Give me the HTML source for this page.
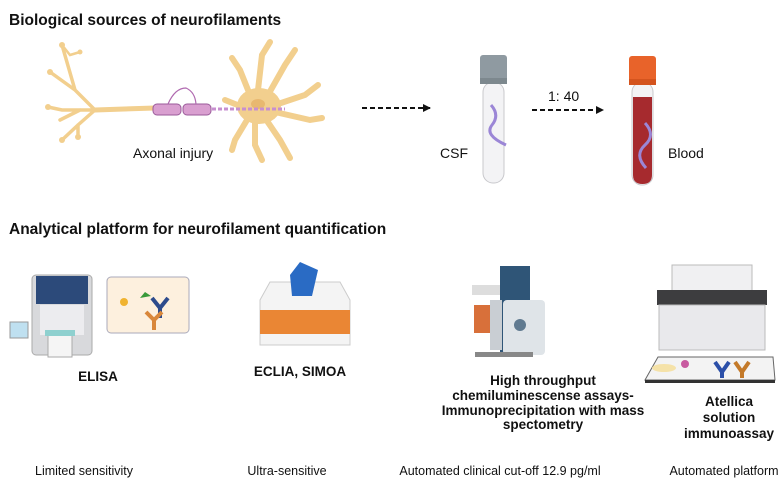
<!DOCTYPE html>
<html><head><meta charset="utf-8"><style>
html,body{margin:0;padding:0;background:#fff;}
svg{display:block;}
text{font-family:"Liberation Sans",Arial,sans-serif;fill:#111;}
.b{font-weight:bold;}
</style></head><body>
<svg width="781" height="487" viewBox="0 0 781 487" xmlns="http://www.w3.org/2000/svg">
<defs>
<marker id="ah" markerWidth="8" markerHeight="8" refX="7" refY="4" orient="auto" markerUnits="userSpaceOnUse"><path d="M0,0 L8,4 L0,8 z" fill="#111"/></marker>
</defs>
<text x="9" y="25" class="b" font-size="15.5">Biological sources of neurofilaments</text>
<text x="9" y="234" class="b" font-size="15.5">Analytical platform for neurofilament quantification</text>

<!-- neuron -->
<g stroke="#f2cf8e" stroke-linecap="round" fill="none">
<path d="M95,110 L155,108" stroke-width="5"/>
<path d="M95,110 L75,90 L62,45 M75,90 L50,72 M95,110 L62,110 L48,107 M80,110 L60,120 M95,110 L78,125 L62,140 M78,125 L78,137" stroke-width="3.5"/>
<path d="M62,45 L70,55 L80,52" stroke-width="2.5"/>
<path d="M250,95 L240,70 L232,58 M258,90 L262,55 L270,42 M268,95 L285,65 L295,50 M275,105 L305,95 L318,85 M275,112 L310,120 L322,118 M265,118 L280,140 L290,158 M255,118 L255,145 L262,160 M250,115 L235,140 L232,150 M245,108 L225,100" stroke-width="6"/>
</g>
<g fill="#f2cf8e"><circle cx="62" cy="45" r="3"/><circle cx="50" cy="72" r="3"/><circle cx="48" cy="107" r="3"/><circle cx="62" cy="140" r="3"/><circle cx="78" cy="137" r="3"/><circle cx="80" cy="52" r="2.5"/></g>
<ellipse cx="259" cy="106" rx="22" ry="18" fill="#f2cf8e"/>
<ellipse cx="258" cy="104" rx="7" ry="5" fill="#e8b870"/>
<rect x="153" y="104" width="28" height="11" rx="4" fill="#d99fd0" stroke="#9a5a9a"/>
<rect x="183" y="104" width="28" height="11" rx="4" fill="#d99fd0" stroke="#9a5a9a"/>
<path d="M168,104 Q175,88 186,88 Q195,92 196,104" fill="none" stroke="#b06ab0" stroke-width="1.2"/>
<path d="M212,109 L285,109" stroke="#c78fd0" stroke-width="3" stroke-dasharray="4,2"/>
<text x="133" y="158" font-size="14">Axonal injury</text>

<!-- arrows -->
<line x1="362" y1="108" x2="430" y2="108" stroke="#111" stroke-width="2" stroke-dasharray="5,3" marker-end="url(#ah)"/>
<line x1="532" y1="110" x2="603" y2="110" stroke="#111" stroke-width="2" stroke-dasharray="5,3" marker-end="url(#ah)"/>
<text x="548" y="101" font-size="14">1: 40</text>

<!-- CSF tube -->
<rect x="483" y="82" width="21" height="101" rx="10" fill="#f3f3f5" stroke="#c8c8cc"/>
<rect x="480" y="55" width="27" height="27" rx="3" fill="#8f9aa1"/>
<rect x="480" y="78" width="27" height="6" fill="#7d888e"/>
<path d="M491,105 Q500,115 492,125 Q484,135 506,145" fill="none" stroke="#9b86d6" stroke-width="3"/>
<text x="440" y="158" font-size="14">CSF</text>

<!-- Blood tube -->
<rect x="632" y="82" width="21" height="103" rx="10" fill="#f3f3f5" stroke="#c8c8cc"/>
<path d="M633,97 L652,97 L652,175 Q652,184 642.5,184 Q633,184 633,175 Z" fill="#a62a2e"/>
<rect x="629" y="56" width="27" height="27" rx="3" fill="#e8632a"/>
<rect x="629" y="79" width="27" height="6" fill="#d4541e"/>
<path d="M645,123 Q656,135 645,145 Q634,155 646,168" fill="none" stroke="#9b86d6" stroke-width="3"/>
<text x="668" y="158" font-size="14">Blood</text>

<!-- ELISA machine -->
<rect x="32" y="275" width="60" height="80" rx="4" fill="#d8d9dc" stroke="#aaa"/>
<rect x="36" y="276" width="52" height="28" fill="#2c4a7a"/>
<rect x="40" y="305" width="44" height="30" fill="#ececef"/>
<rect x="10" y="322" width="18" height="16" fill="#bfe0f0" stroke="#999"/>
<rect x="48" y="335" width="24" height="22" fill="#f5f5f5" stroke="#aaa"/>
<rect x="45" y="330" width="30" height="6" fill="#8ed0cf"/>
<!-- ELISA box -->
<rect x="107" y="277" width="82" height="56" rx="4" fill="#fdf0de" stroke="#aab"/>
<circle cx="124" cy="302" r="4" fill="#f0b330"/>
<path d="M140,298 L145,292 L151,296" fill="#3a9a3a"/>
<path d="M152,298 L160,308 L168,298 M160,308 L160,318" stroke="#2d4b8c" stroke-width="4" fill="none"/>
<path d="M146,312 L154,320 L162,312 M154,320 L154,330" stroke="#d9873a" stroke-width="4" fill="none"/>
<text x="98" y="381" class="b" font-size="13.5" text-anchor="middle">ELISA</text>

<!-- ECLIA printer -->
<path d="M260,300 L270,282 L340,282 L350,300 L350,345 L260,345 Z" fill="#f4f4f4" stroke="#ccc"/>
<rect x="260" y="310" width="90" height="24" fill="#ea8634"/>
<path d="M290,275 L300,262 L318,270 L312,296 L292,296 Z" fill="#2a6bc4"/>
<text x="300" y="376" class="b" font-size="13.5" text-anchor="middle">ECLIA, SIMOA</text>

<!-- Mass spec -->
<rect x="500" y="266" width="30" height="90" fill="#2f5577"/>
<rect x="503" y="300" width="42" height="55" rx="4" fill="#dfe4e8"/>
<rect x="472" y="285" width="28" height="10" fill="#ddd"/>
<rect x="474" y="305" width="16" height="28" fill="#d8703a"/>
<rect x="490" y="300" width="12" height="50" fill="#c9ced3"/>
<rect x="475" y="352" width="58" height="5" fill="#888"/>
<circle cx="520" cy="325" r="6" fill="#607a90"/>
<g class="b" font-size="13.5" text-anchor="middle">
<text x="543" y="385" class="b">High throughput</text>
<text x="543" y="400" class="b">chemiluminescense assays-</text>
<text x="543" y="415" class="b">Immunoprecipitation with mass</text>
<text x="543" y="429" class="b">spectometry</text>
</g>

<!-- Atellica -->
<rect x="672" y="265" width="80" height="35" fill="#f0f0f2" stroke="#bbb"/>
<rect x="657" y="290" width="110" height="15" fill="#3d3d3f"/>
<rect x="659" y="305" width="106" height="45" fill="#e9e9ec" stroke="#bbb"/>
<path d="M658,357 L773,357 L775,380 L645,380 Z" fill="#f3f3f3" stroke="#666"/>
<rect x="645" y="380" width="130" height="3" fill="#333"/>
<ellipse cx="664" cy="368" rx="12" ry="4" fill="#f5e2a8"/>
<circle cx="685" cy="364" r="4" fill="#c85aa0"/>
<path d="M715,362 L722,372 L729,362 M722,372 L722,378" stroke="#2b4fa8" stroke-width="4" fill="none"/>
<path d="M735,362 L742,372 L749,362 M742,372 L742,378" stroke="#c47a2a" stroke-width="4" fill="none"/>
<text x="729" y="406" class="b" font-size="13.5" text-anchor="middle">Atellica</text>
<text x="729" y="422" class="b" font-size="13.5" text-anchor="middle">solution</text>
<text x="729" y="438" class="b" font-size="13.5" text-anchor="middle">immunoassay</text>

<!-- bottom labels -->
<g font-size="12.5" text-anchor="middle">
<text x="84" y="475">Limited sensitivity</text>
<text x="287" y="475">Ultra-sensitive</text>
<text x="500" y="475">Automated clinical cut-off 12.9 pg/ml</text>
<text x="724" y="475">Automated platform</text>
</g>
</svg>
</body></html>
